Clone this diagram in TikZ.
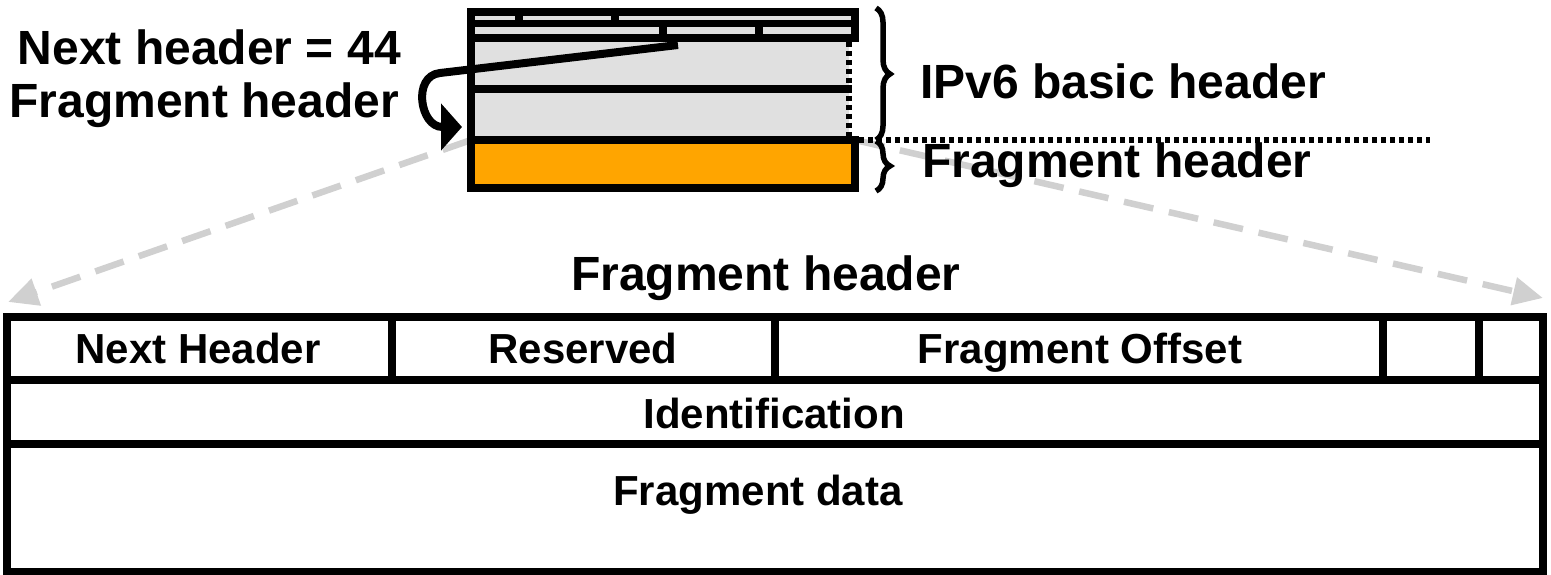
\documentclass[tikz,border=0pt]{standalone}
\usepackage{fontspec}
\setmainfont{Liberation Sans}
\usetikzlibrary{arrows.meta,decorations.pathreplacing}
\definecolor{hdrgray}{HTML}{E0E0E0}
\definecolor{fragorange}{HTML}{FFA500}
\definecolor{arrowgray}{HTML}{D0D0D0}
\begin{document}
\begin{tikzpicture}[x=1pt,y=-1pt,
  big/.style={font=\fontsize{48}{50}\selectfont\bfseries, inner sep=0pt},
  cell/.style={font=\fontsize{42}{44}\selectfont\bfseries, inner sep=0pt, anchor=base},
  edge/.style={line width=8pt},
  zoomline/.style={arrowgray, line width=6.5pt, dash pattern=on 30pt off 16pt, -{Triangle[length=30pt,width=27pt]}},
  dotline/.style={line width=5.5pt, dash pattern=on 5pt off 4pt},
  bracestyle/.style={line width=5.5pt, decorate, decoration={brace, amplitude=14pt}}]
\useasboundingbox (0,0) rectangle (1551,575);
% zoom guide lines
\coordinate (pl) at (471,140);
\coordinate (pr) at (855,140);
\coordinate (tl) at (8,302);
\coordinate (tr) at (1543,298);
\draw[zoomline] (pl) -- (tl);
\draw[zoomline] (pr) -- (tr);
% small packet
\fill[hdrgray] (471,12) rectangle (855,38);
\fill[hdrgray] (471,38) rectangle (849,140);
\fill[fragorange] (471,140) rectangle (855,188);
\draw[edge, line join=miter] (855,42) -- (855,12) -- (471,12) -- (471,188) -- (855,188) -- (855,136);
\draw[line width=7pt] (471,24) -- (855,24);
\draw[edge] (471,38) -- (855,38);
\draw[edge] (471,89) -- (852,89);
\draw[edge] (471,140) -- (855,140);
\draw[line width=8pt] (519,12) -- (519,24);
\draw[line width=8pt] (615,12) -- (615,24);
\draw[line width=8pt] (663,24) -- (663,38);
\draw[line width=8pt] (759,24) -- (759,38);
\draw[line width=6pt, dash pattern=on 5pt off 4pt] (849,42) -- (849,136);
% dotted boundary
\coordinate (dotA) at (859,140);
\coordinate (dotB) at (1430,140);
\draw[dotline] (dotA) -- (dotB);
% braces
\coordinate (bA) at (876,8);
\coordinate (bB) at (876,140);
\coordinate (bC) at (876,141);
\coordinate (bD) at (876,191);
\draw[bracestyle] (bA) -- (bB);
\draw[bracestyle] (bC) -- (bD);
% next header arrow
\coordinate (nhfield) at (678,45);
\coordinate (bend) at (440,73);
\coordinate (fhfield) at (462,127);
\draw[line width=8pt, -{Triangle[length=21pt,width=46pt]}] (nhfield) -- (bend) .. controls (412,76) and (420,127) .. (fhfield);
% labels
\node[big, anchor=base east] (nh44) at (401,65) {Next header = 44};
\node[big, anchor=base east] (fhlabel) at (399,118) {Fragment header};
\node[big, anchor=base west] (ipv6) at (920,99) {IPv6 basic header};
\node[big, anchor=base west] (fhright) at (922,178) {Fragment header};
\node[big, anchor=base] (title) at (766,290) {Fragment header};
% fragment header table
\draw[edge] (7,316.5) rectangle (1543,571.5);
\draw[edge] (7,380) -- (1543,380);
\draw[edge] (7,444) -- (1543,444);
\draw[edge] (392,316.5) -- (392,380);
\draw[edge] (775,316.5) -- (775,380);
\draw[edge] (1383,316.5) -- (1383,380);
\draw[edge] (1479,316.5) -- (1479,380);
\node[cell] (cnh) at (198,363) {Next Header};
\node[cell] (cres) at (583,363) {Reserved};
\node[cell] (coff) at (1080,363) {Fragment Offset};
\node[cell] (cid) at (774,428) {Identification};
\node[cell] (cdata) at (758,505) {Fragment data};
\end{tikzpicture}
\end{document}
